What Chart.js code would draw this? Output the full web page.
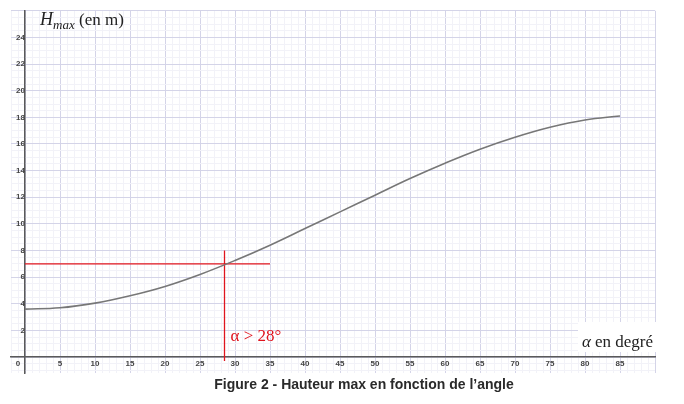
<!DOCTYPE html>
<html>
<head>
<meta charset="utf-8">
<script src="https://cdn.jsdelivr.net/npm/chart.js@4/dist/chart.umd.min.js"></script>
<style>
  html, body { margin: 0; padding: 0; background: #fff; }
  #wrap { width: 684px; height: 404px; }
</style>
</head>
<body>
<div id="wrap"><canvas id="myChart" width="684" height="404"></canvas></div>
<script>
// angle en degres et hauteur max
let angles = [0, 5, 10, 15, 20, 25, 30, 35, 40, 45, 50, 55, 60, 65, 70, 75, 80, 85];
let hauteurs = [3.6, 3.7, 4.05, 4.6, 5.3, 6.2, 7.25, 8.4, 9.65, 10.9, 12.15, 13.4, 14.55, 15.6, 16.5, 17.25, 17.8, 18.1];
// traits rouges de lecture
let lectureH = 7;
let lectureHX = [0, 35];
let lectureAlpha = 28.5;
let lectureAlphaY = [8, -0.3];
let xTicks = [5, 10, 15, 20, 25, 30, 35, 40, 45, 50, 55, 60, 65, 70, 75, 80, 85];
let yTicks = [2, 4, 6, 8, 10, 12, 14, 16, 18, 20, 22, 24];

let courbe = angles.map((a, i) => ({x: a, y: hauteurs[i]}));
let ligneH = lectureHX.map(x => ({x: x, y: lectureH}));
let ligneV = lectureAlphaY.map(y => ({x: lectureAlpha, y: y}));

let textes = {
  id: 'textes',
  afterDraw(chart) {
    let ctx = chart.ctx;
    let xs = chart.scales.x, ys = chart.scales.y;
    ctx.save();
    // zone blanche derriere le nom de l'axe x
    ctx.fillStyle = '#fff';
    ctx.fillRect(578, 322, 106, 30);
    ctx.fillStyle = '#222';
    ctx.textBaseline = 'alphabetic';
    ctx.textAlign = 'left';
    ctx.font = 'italic 17px "Liberation Serif"';
    ctx.fillText('\u03b1', 582, 347);
    ctx.font = '17px "Liberation Serif"';
    ctx.fillText('en degr\u00e9', 595, 347);
    // nom de l'axe y
    ctx.font = 'italic 18px "Liberation Serif"';
    ctx.fillText('H', 40, 25);
    ctx.font = 'italic 13px "Liberation Serif"';
    ctx.fillText('max', 53, 29);
    ctx.font = '17px "Liberation Serif"';
    ctx.fillText('(en m)', 79, 25);
    // origine
    ctx.font = 'bold 8px "Liberation Sans"';
    ctx.fillStyle = '#444';
    ctx.textAlign = 'center';
    ctx.fillText('0', 18, 366);
    // annotation rouge
    ctx.fillStyle = '#e0141e';
    ctx.textAlign = 'left';
    ctx.font = '17px "Liberation Serif"';
    ctx.fillText('\u03b1 > 28\u00b0', xs.getPixelForValue(lectureAlpha) + 6, ys.getPixelForValue(0) - 16);
    // legende
    ctx.fillStyle = '#2a2a2a';
    ctx.textAlign = 'center';
    ctx.font = 'bold 14px "Liberation Sans"';
    ctx.fillText('Figure 2 - Hauteur max en fonction de l\u2019angle', 364, 389);
    ctx.restore();
  }
};

let ctx = document.getElementById('myChart').getContext('2d');
let myChart = new Chart(ctx, {
  type: 'line',
  data: {
    datasets: [{
      data: courbe,
      borderColor: '#777',
      borderWidth: 1.6,
      pointRadius: 0,
      tension: 0.4
    }, {
      data: ligneH,
      borderColor: '#e0141e',
      borderWidth: 1.3,
      pointRadius: 0
    }, {
      data: ligneV,
      borderColor: '#e0141e',
      borderWidth: 1.3,
      pointRadius: 0
    }]
  },
  options: {
    responsive: false,
    animation: false,
    layout: { padding: { left: 11, right: 29, top: 6, bottom: 31 } },
    plugins: { legend: { display: false }, tooltip: { enabled: false } },
    scales: {
      x: {
        type: 'linear',
        min: -2,
        max: 90,
        position: { y: 0 },
        afterBuildTicks: axis => {
          let t = [];
          for (let v = -2; v <= 90; v++) t.push({value: v});
          axis.ticks = t;
        },
        ticks: {
          autoSkip: false,
          maxRotation: 0,
          padding: 2,
          color: '#444',
          font: { family: 'Liberation Sans', size: 8, weight: 'bold' },
          callback: v => xTicks.includes(v) ? String(v) : ''
        },
        grid: {
          drawTicks: false,
          color: c => (c.tick && c.tick.value % 5 === 0) ? '#d4d4e8' : '#f2f2f8',
          lineWidth: 1
        },
        border: { color: '#5a5a5a', width: 1.5 }
      },
      y: {
        type: 'linear',
        min: -1.2,
        max: 26,
        position: { x: 0 },
        afterBuildTicks: axis => {
          let t = [];
          for (let v = -1; v <= 26; v += 0.5) t.push({value: v});
          axis.ticks = t;
        },
        ticks: {
          autoSkip: false,
          padding: 6,
          color: '#444',
          font: { family: 'Liberation Sans', size: 8, weight: 'bold' },
          callback: v => yTicks.includes(v) ? String(v) : ''
        },
        grid: {
          drawTicks: false,
          color: c => (c.tick && c.tick.value % 2 === 0) ? '#d4d4e8' : '#f2f2f8',
          lineWidth: 1
        },
        border: { color: '#5a5a5a', width: 1.5 }
      }
    }
  },
  plugins: [textes]
});
</script>
</body>
</html>
